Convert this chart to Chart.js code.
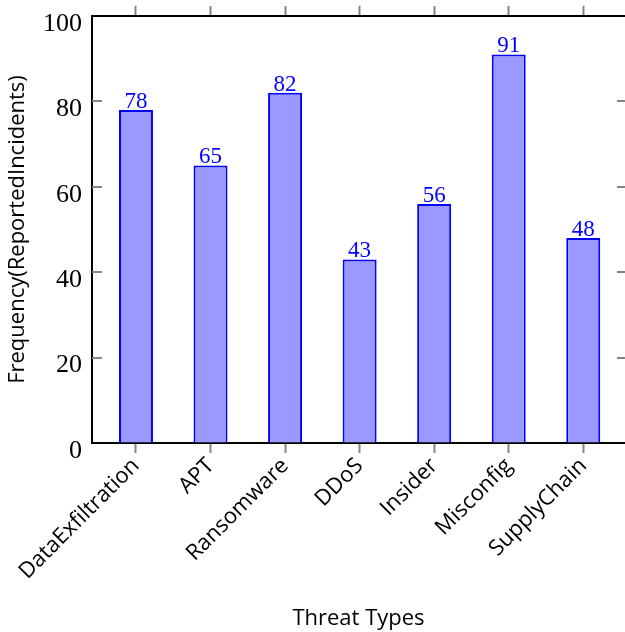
<!DOCTYPE html>
<html>
<head>
<meta charset="utf-8">
<script src="https://cdn.jsdelivr.net/npm/chart.js@4"></script>
<style>
html,body{margin:0;padding:0;background:#fff;}
canvas{display:block;}
</style>
</head>
<body>
<canvas id="c" width="625" height="632"></canvas>
<script>
const categories = ["DataExfiltration","APT","Ransomware","DDoS","Insider","Misconfig","SupplyChain"];
const incidents = [78, 65, 82, 43, 56, 91, 48];
const yTickValues = [0, 20, 40, 60, 80, 100];
const xTitle = "Threat Types";
const yTitle = "Frequency(ReportedIncidents)";

const SANS = "'Open Sans', 'DejaVu Sans', sans-serif";
const SERIF = "'Liberation Serif', 'DejaVu Serif', serif";

const catTicks = () => categories.map((_, i) => ({ value: i }));

const innerTicks = {
  id: 'innerTicks',
  afterDraw(chart) {
    const ctx = chart.ctx, a = chart.chartArea, y = chart.scales.y;
    ctx.save();
    ctx.strokeStyle = '#858585';
    ctx.lineWidth = 2;
    yTickValues.forEach(v => {
      if (v === 0 || v === 100) return;
      const py = Math.round(y.getPixelForValue(v));
      ctx.beginPath();
      ctx.moveTo(a.left, py); ctx.lineTo(a.left + 10, py);
      ctx.moveTo(a.right - 8, py); ctx.lineTo(a.right, py);
      ctx.stroke();
    });
    ctx.restore();
  }
};

const barLabels = {
  id: 'barLabels',
  afterDatasetsDraw(chart) {
    const ctx = chart.ctx;
    const meta = chart.getDatasetMeta(0);
    ctx.save();
    ctx.fillStyle = '#0000ff';
    ctx.font = "23px " + SERIF;
    ctx.textAlign = 'center';
    ctx.textBaseline = 'alphabetic';
    meta.data.forEach((bar, i) => {
      ctx.fillText(String(incidents[i]), bar.x, bar.y - 2);
    });
    ctx.restore();
  }
};

new Chart(document.getElementById('c'), {
  type: 'bar',
  data: {
    datasets: [{
      data: incidents.map((v, i) => ({ x: i, y: v })),
      backgroundColor: '#9999ff',
      borderColor: '#0000ff',
      borderWidth: 2,
      barPercentage: 0.456,
      categoryPercentage: 1.0
    }]
  },
  options: {
    responsive: false,
    animation: false,
    layout: { padding: { left: 0, right: 0, top: 0, bottom: 0 } },
    plugins: { legend: { display: false }, tooltip: { enabled: false } },
    scales: {
      x: {
        type: 'linear',
        position: 'bottom',
        offset: false,
        min: -0.59,
        max: 6.56,
        afterBuildTicks: s => { s.ticks = catTicks(); },
        afterFit: s => { s.height = 189; s.paddingLeft = 0; s.paddingRight = 0; },
        grid: { offset: false, drawOnChartArea: false, drawTicks: true, tickLength: 10, tickColor: '#858585', tickWidth: 2 },
        border: { display: true, color: '#000', width: 2 },
        ticks: {
          autoSkip: false,
          maxRotation: 45,
          minRotation: 45,
          padding: 0,
          color: '#000',
          font: { family: SANS, size: 22 },
          callback: v => categories[v] ?? ''
        },
        title: { display: true, text: xTitle, color: '#000', font: { family: SANS, size: 22 }, padding: { top: 0, bottom: 0 } }
      },
      x2: {
        type: 'linear',
        position: 'top',
        offset: false,
        min: -0.59,
        max: 6.56,
        afterBuildTicks: s => { s.ticks = catTicks(); },
        afterFit: s => { s.height = 16; s.paddingLeft = 0; s.paddingRight = 0; },
        grid: { offset: false, drawOnChartArea: false, drawTicks: true, tickLength: 10, tickColor: '#858585', tickWidth: 2 },
        border: { display: true, color: '#000', width: 2 },
        ticks: { display: false }
      },
      y: {
        type: 'linear',
        position: 'left',
        min: 0,
        max: 100,
        afterBuildTicks: s => { s.ticks = yTickValues.map(v => ({ value: v })); },
        afterFit: s => { s.width = 92; s.paddingTop = 0; s.paddingBottom = 0; },
        grid: { drawOnChartArea: false, drawTicks: false },
        border: { display: true, color: '#000', width: 2 },
        ticks: { padding: 10, labelOffset: 8, color: '#000', font: { family: SERIF, size: 26 } },
        title: { display: true, text: yTitle, color: '#000', font: { family: SANS, size: 22 }, padding: { top: 5, bottom: 0 } }
      }
    }
  },
  plugins: [innerTicks, barLabels]
});
</script>
</body>
</html>
